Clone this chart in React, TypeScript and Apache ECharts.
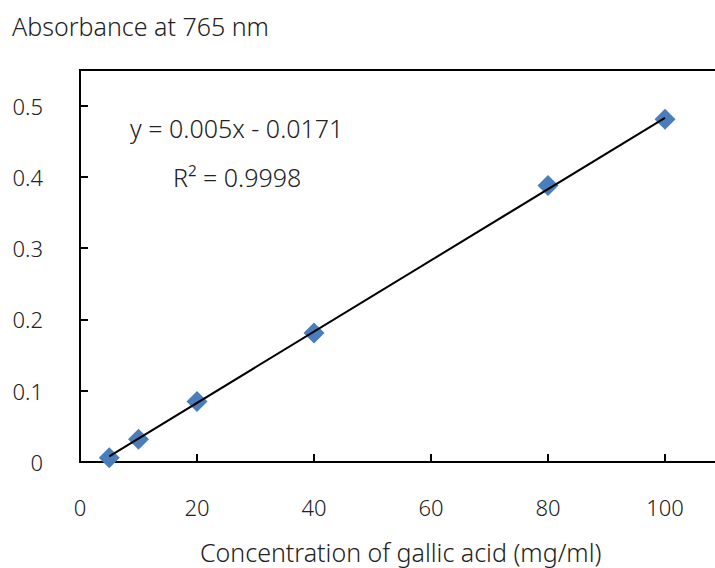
import React, { useEffect, useRef } from "react";
import * as echarts from "echarts";

const concentration = [5, 10, 20, 40, 80, 100];
const absorbance = [0.006, 0.032, 0.085, 0.181, 0.388, 0.481];
const trendX = [5, 100];
const SLOPE = 0.005;
const INTERCEPT = -0.0171;
const equationText = "y = 0.005x - 0.0171";
const r2Text = "R² = 0.9998";
const yTitle = "Absorbance at 765 nm";
const xTitle = "Concentration of gallic acid (mg/ml)";

const FONT = "'Noto Sans', 'Open Sans', sans-serif";
const TEXT_COLOR = "#222";
const WEIGHT = 300;

export default function App() {
  const ref = useRef<HTMLDivElement>(null);
  useEffect(() => {
    if (!ref.current) return;
    const chart = echarts.init(ref.current, null, { renderer: "svg" });
    const points = concentration.map((x, i) => [x, absorbance[i]]);
    const trend = trendX.map((x) => [x, SLOPE * x + INTERCEPT]);
    chart.setOption({
      animation: false,
      backgroundColor: "#fff",
      textStyle: { fontFamily: FONT },
      title: [
        {
          text: yTitle,
          left: 12,
          top: 13,
          padding: 0,
          textStyle: { fontFamily: FONT, fontSize: 25, fontWeight: WEIGHT, color: TEXT_COLOR },
        },
        {
          text: xTitle,
          left: 200,
          top: 539,
          padding: 0,
          textStyle: { fontFamily: FONT, fontSize: 25, fontWeight: WEIGHT, color: TEXT_COLOR },
        },
      ],
      grid: {
        left: 80,
        top: 70,
        width: 702,
        height: 392,
        show: true,
        borderColor: "#000",
        borderWidth: 2,
        backgroundColor: "transparent",
      },
      xAxis: {
        type: "value",
        min: 0,
        max: 120,
        interval: 20,
        axisLine: { lineStyle: { color: "#000", width: 2 } },
        axisTick: { inside: true, length: 8, lineStyle: { color: "#000", width: 2 } },
        axisLabel: {
          margin: 34,
          fontSize: 22,
          fontWeight: WEIGHT,
          color: TEXT_COLOR,
          fontFamily: FONT,
          showMaxLabel: false,
        },
        splitLine: { show: false },
      },
      yAxis: {
        type: "value",
        min: 0,
        max: 0.55,
        interval: 0.1,
        axisLine: { show: true, lineStyle: { color: "#000", width: 2 } },
        axisTick: { show: true, inside: true, length: 8, lineStyle: { color: "#000", width: 2 } },
        axisLabel: {
          margin: 37,
          fontSize: 22,
          fontWeight: WEIGHT,
          color: TEXT_COLOR,
          fontFamily: FONT,
          showMaxLabel: false,
          formatter: (v: number) => (v === 0 ? "0" : v.toFixed(1)),
        },
        splitLine: { show: false },
      },
      graphic: [
        {
          type: "text",
          left: 130,
          top: 115,
          style: { text: equationText, fontSize: 25, fontWeight: WEIGHT, fill: TEXT_COLOR, fontFamily: FONT },
        },
        {
          type: "text",
          left: 173,
          top: 164,
          style: { text: r2Text, fontSize: 25, fontWeight: WEIGHT, fill: TEXT_COLOR, fontFamily: FONT },
        },
      ],
      series: [
        {
          type: "line",
          data: trend,
          symbol: "none",
          lineStyle: { color: "#000", width: 2 },
          z: 3,
        },
        {
          type: "scatter",
          data: points,
          symbol: "diamond",
          symbolSize: 21,
          itemStyle: { color: "#4A7EBB", opacity: 1 },
          z: 2,
        },
      ],
    });
    return () => chart.dispose();
  }, []);
  return (
    <div style={{ position: "fixed", left: 0, top: 0, width: 715, height: 568, overflow: "hidden", background: "#fff" }}>
      <div ref={ref} style={{ width: 900, height: 600 }} />
    </div>
  );
}
